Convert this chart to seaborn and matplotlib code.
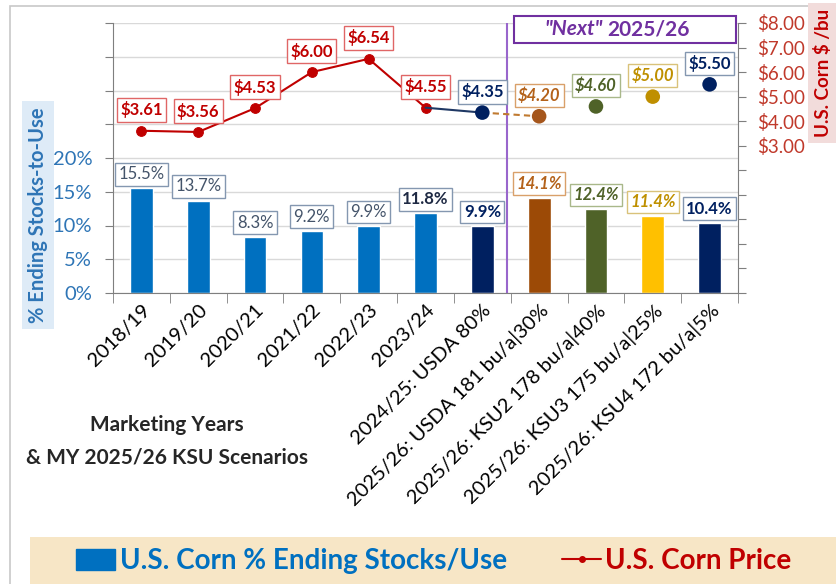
import numpy as np
import seaborn as sns
import matplotlib.pyplot as plt
from matplotlib.patches import Patch, Rectangle
from matplotlib.lines import Line2D

# Data
categories = ["2018/19", "2019/20", "2020/21", "2021/22", "2022/23", "2023/24",
              "2024/25: USDA 80%", "2025/26: USDA 181 bu/a|30%",
              "2025/26: KSU2 178 bu/a|40%", "2025/26: KSU3 175 bu/a|25%",
              "2025/26: KSU4 172 bu/a|5%"]
stocks_to_use = [15.5, 13.7, 8.3, 9.2, 9.9, 11.8, 9.9, 14.1, 12.4, 11.4, 10.4]
prices = [3.61, 3.56, 4.53, 6.00, 6.54, 4.55, 4.35, 4.20, 4.60, 5.00, 5.50]

# Styling
BLUE = "#0070C0"
NAVY = "#002060"
BROWN = "#9C4A06"
OLIVE = "#4F6228"
GOLD = "#FFC000"
RED = "#C00000"
bar_colors = [BLUE] * 6 + [NAVY, BROWN, OLIVE, GOLD, NAVY]
pt_colors = [RED] * 6 + [NAVY, "#A5561C", OLIVE, "#BF8F00", NAVY]
lab_colors = ["#C00000"] * 6 + [NAVY, "#B4621A", OLIVE, "#BF9000", NAVY]
lab_edges = ["#E06666"] * 6 + ["#8497B0", "#D9A06A", "#A9B88A", "#D9C27A", "#8497B0"]
pct_colors = ["#44546A"] * 5 + ["#1F2A44", NAVY, "#B4621A", OLIVE, "#BF9000", NAVY]
pct_edges = ["#8497B0"] * 7 + ["#D9A06A", "#A9B88A", "#D9C27A", "#8497B0"]
italic = [False] * 7 + [True, True, True, False]

sns.set_style("white")
plt.rcParams["font.family"] = ["Lato", "DejaVu Sans"]

fig = plt.figure(figsize=(8.36, 5.84), dpi=100)
W, H = 836, 584

# outer frame and legend band
fig.patches.append(Rectangle((10 / W, -0.1), 1.2, 1 - 6 / H + 0.1, transform=fig.transFigure,
                             fill=False, ec="#C8C8C8", lw=1.2))
fig.patches.append(Rectangle((30 / W, -0.1), 1.2, (584 - 537) / H + 0.1, transform=fig.transFigure,
                             fc="#F7E6C6", ec="none"))

ax = fig.add_axes([113 / W, 1 - 293 / H, (738 - 113) / W, (293 - 23) / H])
x = np.arange(len(categories))

sns.barplot(x=categories, y=stocks_to_use, hue=categories, palette=bar_colors,
            legend=False, width=0.4, saturation=1, ax=ax)
ax.set_xlim(-0.5, len(categories) - 0.5)
ax.set_ylim(0, 40)
ax.set_yticks(np.arange(0, 41, 5))
ax.set_yticklabels([f"{t}%" if t <= 20 else "" for t in range(0, 41, 5)])
ax.yaxis.grid(True, color="#D9D9D9", lw=1)
ax.set_axisbelow(True)
ax.tick_params(axis="y", colors="#7F7F7F", labelcolor="#2E75B6", labelsize=14.5,
               length=6, direction="out", left=True, pad=9)
ax.set_xticks(x)
ax.set_xticklabels(categories, rotation=45, ha="right", rotation_mode="anchor",
                   fontsize=14.5, color="black")
ax.tick_params(axis="x", length=0, pad=6)
ax.set_xticks(np.arange(-0.5, len(categories), 1), minor=True)
ax.tick_params(axis="x", which="minor", length=7, color="#7F7F7F", bottom=True)
ax.set_xlabel("")
ax.set_ylabel("")
for s in ["top", "right"]:
    ax.spines[s].set_visible(False)
for s in ["left", "bottom"]:
    ax.spines[s].set_color("#7F7F7F")

for i, v in enumerate(stocks_to_use):
    ax.text(i, v + 2.1, f"{v}%", ha="center", va="center", fontsize=12,
            color=pct_colors[i], fontweight="normal" if i < 5 else "bold",
            fontstyle="italic" if italic[i] else "normal",
            bbox=dict(boxstyle="square,pad=0.2", fc="white", ec=pct_edges[i], lw=1))

# price axis
ax2 = ax.twinx()
sns.lineplot(x=x[:6], y=prices[:6], color=RED, lw=1.5, marker="o", markersize=7,
             markeredgecolor=RED, sort=False, ax=ax2)
ax2.plot(x[5:7], prices[5:7], color="#1F3864", lw=1.5)
ax2.plot(x[6:8], prices[6:8], color="#C07A30", lw=1.5, ls=(0, (3, 2)))
sns.scatterplot(x=x[6:], y=prices[6:], hue=categories[6:], palette=pt_colors[6:],
                s=110, edgecolor="none", legend=False, ax=ax2, zorder=5)
ax2.set_ylim(-3, 8)
ax2.set_yticks(np.arange(-3, 9, 1))
ax2.set_yticklabels([f"${t:.2f}" if t >= 3 else "" for t in range(-3, 9)])
ax2.tick_params(axis="y", colors="#7F7F7F", labelcolor="#C0392B", labelsize=13.5,
                length=6, direction="out", right=True, pad=8)
ax2.set_ylabel("")
for s in ["top", "left", "bottom"]:
    ax2.spines[s].set_visible(False)
ax2.spines["right"].set_color("#7F7F7F")

for i, p in enumerate(prices):
    ax2.text(i, p + 0.85, f"${p:.2f}", ha="center", va="center", fontsize=12,
             color=lab_colors[i], fontweight="bold",
             fontstyle="italic" if italic[i] else "normal",
             bbox=dict(boxstyle="square,pad=0.2", fc="white", ec=lab_edges[i], lw=1))

# "Next" 2025/26 divider and box
ax.axvline(6.43, color="#9966CC", lw=1.5)
ax.add_patch(Rectangle((6.55, 0.925), 3.92, 0.10, transform=ax.get_xaxis_transform(),
                       fill=True, fc="white", ec="#7030A0", lw=1.5, clip_on=False, zorder=6))
ax.text(8.12, 0.977, '"Next"', transform=ax.get_xaxis_transform(), ha="right", va="center",
        fontsize=15, fontweight="bold", fontstyle="italic", color="#7030A0", zorder=7)
ax.text(8.2, 0.977, "2025/26", transform=ax.get_xaxis_transform(), ha="left", va="center",
        fontsize=15, fontweight="bold", color="#7030A0", zorder=7)

# axis titles
fig.text(38 / W, 1 - 215 / H, "% Ending Stocks-to-Use", rotation=90, ha="center", va="center",
         fontsize=14.5, fontweight="bold", color="#2E75B6",
         bbox=dict(boxstyle="square,pad=0.3", fc="#DEEBF7", ec="none"))
fig.text(823 / W, 1 - 73 / H, "U.S. Corn $ /bu", rotation=90, ha="center", va="center",
         fontsize=13.5, fontweight="bold", color="#C00000",
         bbox=dict(boxstyle="square,pad=0.3", fc="#F2DCDB", ec="none"))
fig.text(167 / W, 1 - 425 / H, "Marketing Years", ha="center", va="center",
         fontsize=15, fontweight="bold", color="#262626")
fig.text(167 / W, 1 - 457 / H, "& MY 2025/26 KSU Scenarios", ha="center", va="center",
         fontsize=15, fontweight="bold", color="#262626")

# legend
handles = [Patch(color=BLUE),
           Line2D([], [], color=RED, lw=1.5, marker="o", markersize=4)]
leg = fig.legend(handles, ["U.S. Corn % Ending Stocks/Use", "U.S. Corn Price"],
                 loc="center", bbox_to_anchor=(434 / W, 1 - 561 / H), ncol=2,
                 frameon=False, handlelength=1.4, handleheight=0.8,
                 handletextpad=0.15, columnspacing=2.0,
                 prop=dict(weight="bold", size=20))
for t, c in zip(leg.get_texts(), ["#0070C0", "#C00000"]):
    t.set_color(c)

fig.savefig("out.png", dpi=100)
